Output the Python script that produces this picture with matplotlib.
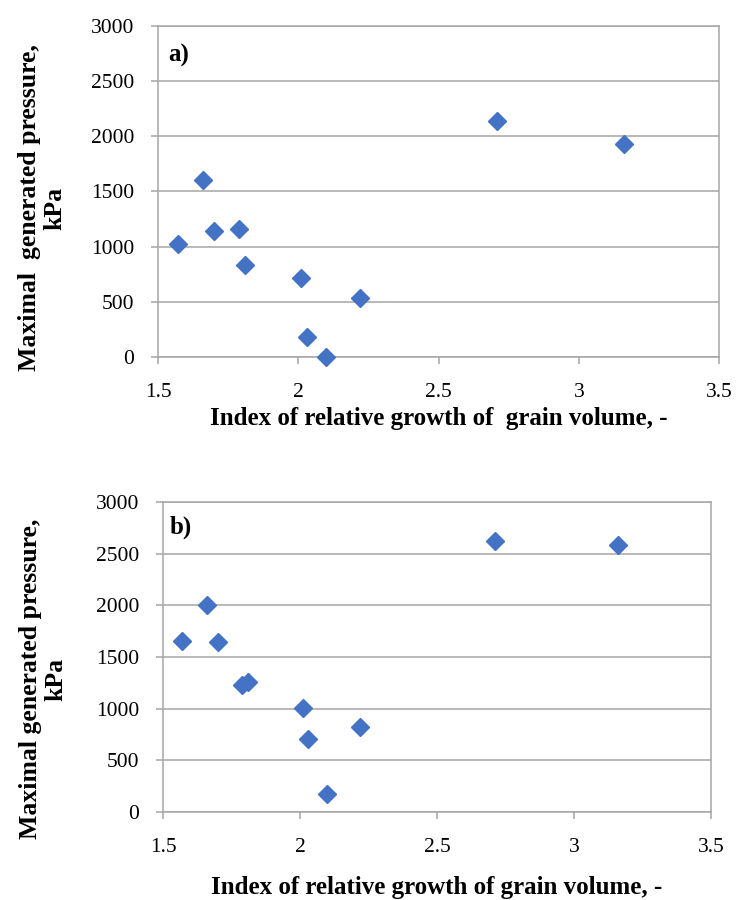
import matplotlib
matplotlib.use('Agg')
import matplotlib.pyplot as plt

# index of relative growth of grain volume (same for both panels)
growth_index = [1.57, 1.66, 1.70, 1.79, 1.81, 2.01, 2.03, 2.10, 2.22, 2.71, 3.16]
# maximal generated pressure, kPa
pressure_a = [1020, 1600, 1145, 1160, 835, 720, 185, 0, 535, 2140, 1930]
pressure_b = [1655, 2005, 1645, 1230, 1255, 1010, 710, 178, 822, 2622, 2587]

x_ticks = [1.5, 2, 2.5, 3, 3.5]
x_tick_labels = ['1.5', '2', '2.5', '3', '3.5']
y_ticks = [0, 500, 1000, 1500, 2000, 2500, 3000]

panels = [
    {'tag': 'a)', 'y': pressure_a,
     'xlabel': 'Index of relative growth of  grain volume, -',
     'ylabel': 'Maximal  generated pressure,\nkPa'},
    {'tag': 'b)', 'y': pressure_b,
     'xlabel': 'Index of relative growth of grain volume, -',
     'ylabel': 'Maximal generated pressure,\nkPa'},
]

plt.rcParams['font.family'] = ['Liberation Serif', 'DejaVu Serif']

grey = '#A6A6A6'
marker_color = '#4472C4'

fig = plt.figure(figsize=(7.37, 9.0), dpi=100)
# [left, bottom, width, height] in figure fractions, plus label spots
boxes = [[0.2144, 0.6033, 0.7612, 0.3681], [0.2212, 0.0978, 0.7436, 0.3444]]
tag_pos = [(0.018, 0.945), (0.013, 0.955)]
xlab_y = [-0.15, -0.205]
ylab_pos = [(42 / 737, 1 - 208 / 900), (43 / 737, 1 - 679 / 900)]

for i, p in enumerate(panels):
    ax = fig.add_axes(boxes[i])
    ax.plot(growth_index, p['y'], linestyle='none', marker='D',
            markersize=8.7, color=marker_color, clip_on=False, zorder=3)
    ax.set_xlim(1.5, 3.5)
    ax.set_ylim(0, 3000)
    ax.set_xticks(x_ticks)
    ax.set_xticklabels(x_tick_labels)
    ax.set_yticks(y_ticks)
    ax.grid(axis='y', color=grey, linewidth=1.1)
    ax.set_axisbelow(True)
    for s in ax.spines.values():
        s.set_color(grey)
        s.set_linewidth(1.1)
    ax.tick_params(axis='both', direction='out', length=5, width=1.1,
                   color=grey, labelsize=15.5, labelcolor='black')
    ax.tick_params(axis='y', pad=12)
    ax.tick_params(axis='x', pad=14)
    ax.text(tag_pos[i][0], tag_pos[i][1], p['tag'], transform=ax.transAxes,
            ha='left', va='top', fontsize=18, fontweight='bold')
    ax.text(0.5, xlab_y[i], p['xlabel'], transform=ax.transAxes,
            ha='center', va='top', fontsize=18, fontweight='bold')
    fig.text(ylab_pos[i][0], ylab_pos[i][1], p['ylabel'], rotation=90,
             ha='center', va='center', multialignment='center',
             fontsize=18.5, fontweight='bold', linespacing=1.15)

fig.savefig('out.png', dpi=100)
